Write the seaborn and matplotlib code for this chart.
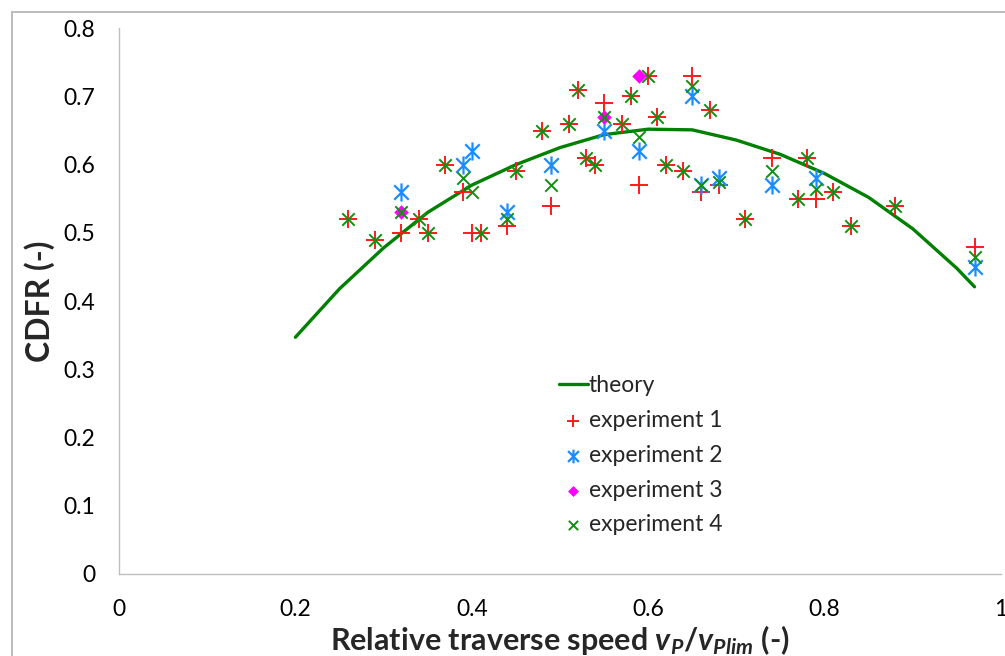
import matplotlib
matplotlib.use("Agg")
import matplotlib.pyplot as plt
import matplotlib.patches as mpatches
from matplotlib.path import Path
import seaborn as sns

# theory curve
theory_x = [0.20, 0.25, 0.30, 0.35, 0.40, 0.45, 0.50, 0.55, 0.60, 0.65,
            0.70, 0.75, 0.80, 0.85, 0.90, 0.95, 0.97]
theory_y = [0.347, 0.418, 0.478, 0.530, 0.570, 0.600, 0.625, 0.644, 0.652, 0.651,
            0.636, 0.615, 0.587, 0.552, 0.506, 0.448, 0.421]

exp1_x = [0.26, 0.29, 0.32, 0.34, 0.35, 0.37, 0.39, 0.40, 0.41, 0.44, 0.45, 0.48, 0.49,
          0.51, 0.52, 0.53, 0.54, 0.55, 0.57, 0.58, 0.59, 0.60, 0.61, 0.62, 0.64, 0.65,
          0.66, 0.67, 0.68, 0.71, 0.74, 0.77, 0.78, 0.79, 0.81, 0.83, 0.88, 0.97]
exp1_y = [0.52, 0.49, 0.50, 0.52, 0.50, 0.60, 0.56, 0.50, 0.50, 0.51, 0.59, 0.65, 0.54,
          0.66, 0.71, 0.61, 0.60, 0.69, 0.66, 0.70, 0.57, 0.73, 0.67, 0.60, 0.59, 0.73,
          0.56, 0.68, 0.57, 0.52, 0.61, 0.55, 0.61, 0.55, 0.56, 0.51, 0.54, 0.48]

exp2_x = [0.32, 0.39, 0.40, 0.44, 0.49, 0.55, 0.59, 0.65, 0.66, 0.68, 0.74, 0.79, 0.97]
exp2_y = [0.56, 0.60, 0.62, 0.53, 0.60, 0.65, 0.62, 0.70, 0.57, 0.58, 0.57, 0.58, 0.45]

exp3_x = [0.32, 0.55, 0.59]
exp3_y = [0.53, 0.67, 0.73]

exp4_x = [0.26, 0.29, 0.32, 0.34, 0.35, 0.37, 0.39, 0.40, 0.41, 0.44, 0.45, 0.48, 0.49,
          0.51, 0.52, 0.53, 0.54, 0.55, 0.57, 0.58, 0.59, 0.60, 0.61, 0.62, 0.64, 0.65,
          0.66, 0.67, 0.68, 0.71, 0.74, 0.77, 0.78, 0.79, 0.81, 0.83, 0.88, 0.97]
exp4_y = [0.52, 0.49, 0.53, 0.52, 0.50, 0.60, 0.58, 0.56, 0.50, 0.52, 0.59, 0.65, 0.57,
          0.66, 0.71, 0.61, 0.60, 0.67, 0.66, 0.70, 0.64, 0.73, 0.67, 0.60, 0.59, 0.715,
          0.57, 0.68, 0.575, 0.52, 0.59, 0.55, 0.61, 0.565, 0.56, 0.51, 0.54, 0.465]

x_ticks = [0, 0.2, 0.4, 0.6, 0.8, 1]
y_ticks = [0, 0.1, 0.2, 0.3, 0.4, 0.5, 0.6, 0.7, 0.8]

sns.set_theme(style="white")
plt.rcParams['font.family'] = ['Lato', 'DejaVu Sans']
plt.rcParams['mathtext.fontset'] = 'custom'
plt.rcParams['mathtext.rm'] = 'Lato'
plt.rcParams['mathtext.it'] = 'Lato:italic'
plt.rcParams['mathtext.bf'] = 'Lato:bold'
plt.rcParams['mathtext.bfit'] = 'Lato:bold:italic'

# excel style asterisk: an x with a vertical bar
star = Path([(-1, -1), (1, 1), (-1, 1), (1, -1), (0, -1.25), (0, 1.25)],
            [Path.MOVETO, Path.LINETO, Path.MOVETO, Path.LINETO, Path.MOVETO, Path.LINETO])

fig = plt.figure(figsize=(10.05, 6.56), dpi=100)
ax = fig.add_axes([0.1184, 0.125, 0.8776, 0.832])

# chart border like the excel frame
fig.add_artist(mpatches.Rectangle((12 / 1005, -0.05), 1.2, 1.05 - 12 / 656,
                                  transform=fig.transFigure, fill=False,
                                  edgecolor="#bcbcbc", linewidth=1.4))

sns.lineplot(x=theory_x, y=theory_y, ax=ax, color="#008000", linewidth=2.4,
             label="theory", zorder=1)
sns.scatterplot(x=exp1_x, y=exp1_y, ax=ax, marker="+", color="#ff1a1a", s=150,
                linewidth=1.4, label="experiment 1", zorder=2)
sns.scatterplot(x=exp2_x, y=exp2_y, ax=ax, marker=star, color="#1a8cff",
                edgecolor="#1a8cff", s=170, linewidth=1.6, label="experiment 2", zorder=3)
sns.scatterplot(x=exp3_x, y=exp3_y, ax=ax, marker="D", color="#ff00ff", s=55,
                linewidth=0, label="experiment 3", zorder=4)
sns.scatterplot(x=exp4_x, y=exp4_y, ax=ax, marker="x", color="#109010", s=80,
                linewidth=1.4, label="experiment 4", zorder=5)

ax.set_xlim(0, 1)
ax.set_ylim(0, 0.8)
ax.set_xticks(x_ticks)
ax.set_xticklabels(["0", "0.2", "0.4", "0.6", "0.8", "1"])
ax.set_yticks(y_ticks)
ax.set_yticklabels(["0", "0.1", "0.2", "0.3", "0.4", "0.5", "0.6", "0.7", "0.8"])
ax.tick_params(axis="both", direction="out", length=7, width=1, color="#bfbfbf",
               labelsize=16.5, labelcolor="black", pad=10)
ax.tick_params(axis="x", pad=11)
for side in ["top", "right"]:
    ax.spines[side].set_visible(False)
for side in ["left", "bottom"]:
    ax.spines[side].set_color("#bfbfbf")
    ax.spines[side].set_linewidth(1.0)

ax.set_ylabel("CDFR (-)", fontsize=23, fontweight="bold", labelpad=6)
ax.set_xlabel(r"Relative traverse speed $\mathbfit{v}_{\mathbfit{P}}\mathbf{/}\mathbfit{v}_{\mathbfit{Plim}}$ (-)",
              fontsize=22, fontweight="bold", labelpad=2)

leg = ax.legend(loc="upper left", bbox_to_anchor=(0.486, 0.385), frameon=False,
                fontsize=16.5, handlelength=1.25, handletextpad=0.05, labelspacing=0.6,
                borderpad=0, markerscale=0.75)

fig.savefig("out.png", dpi=100)
